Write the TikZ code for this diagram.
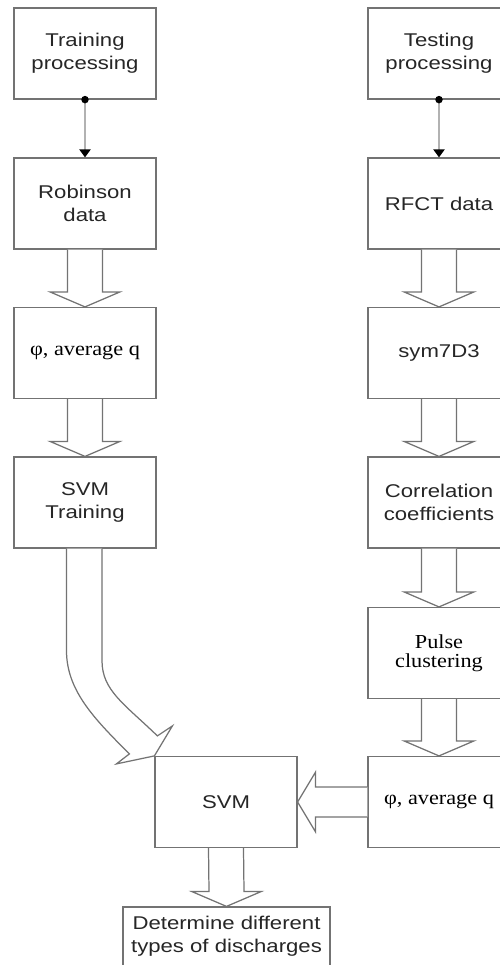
\documentclass[tikz,border=0pt]{standalone}
\usepackage{fontspec}
\setmainfont{Liberation Sans}[FakeStretch=1.2]
\newfontfamily\timesfont{Liberation Serif}[FakeStretch=1.12]
\usetikzlibrary{arrows.meta,calc}

\tikzset{
  box/.style={draw=black!55, line width=0.7pt, fill=white,
    minimum width=2.84cm, minimum height=1.82cm, inner sep=0pt,
    align=center, text=black!85, font=\fontsize{10.5}{13}\selectfont},
  serifbox/.style={box, text=black, font=\timesfont\fontsize{11.3}{10.8}\selectfont},
  blockarrow/.style={draw=black!55, line width=0.7pt, fill=white, line join=miter},
  thinarrow/.style={draw=black!30, line width=1.4pt,
    -{Triangle[color=black, length=1.6mm, width=2.2mm]}},
  joint/.style={fill=black}
}

% vertical hollow arrow from the bottom of #1 to the top of #2
\newcommand\downblock[2]{%
  \draw[blockarrow] ($(#1.south)+(-17.5,0)$) -- ($(#2.north)+(-17.5,-15)$)
    -- ($(#2.north)+(-35,-15)$) -- (#2.north) -- ($(#2.north)+(35,-15)$)
    -- ($(#2.north)+(17.5,-15)$) -- ($(#1.south)+(17.5,0)$);}

\begin{document}
\begin{tikzpicture}[x=0.02cm,y=-0.02cm]
  \useasboundingbox (0,0) rectangle (500,965);

  % training branch
  \node[box] (train) at (85,53.5) {Training\\processing};
  \node[box] (robin) at (85,203.5) {Robinson\\data};
  \node[serifbox] (phia) at (85,353) {φ, average q};
  \node[box] (svmt) at (85,502.5) {SVM\\Training};

  % testing branch
  \node[box] (test) at (439,53.5) {Testing\\processing};
  \node[box] (rfct) at (439,203.5) {RFCT data};
  \node[box] (sym) at (439,353) {sym7D3};
  \node[box] (corr) at (439,502.5) {Correlation\\coefficients};
  \node[serifbox] (pulse) at (439,653) {Pulse\\clustering};
  \node[serifbox] (phib) at (439,802) {φ, average q};

  % classifier and result
  \node[box] (svm) at (226,802) {SVM};
  \node[box, minimum width=4.14cm, minimum height=1.18cm] (det) at (226.5,936.5)
    {Determine different\\types of discharges};

  % thin connectors with joint dots
  \draw[thinarrow] (train.south) -- (robin.north);
  \fill[joint] (train.south) circle[radius=0.075cm];
  \draw[thinarrow] (test.south) -- (rfct.north);
  \fill[joint] (test.south) circle[radius=0.075cm];

  % hollow arrows down each column
  \downblock{robin}{phia}
  \downblock{phia}{svmt}
  \downblock{rfct}{sym}
  \downblock{sym}{corr}
  \downblock{corr}{pulse}
  \downblock{pulse}{phib}
  \downblock{svm}{det}

  % hollow arrow from the test features into the SVM
  \draw[blockarrow] ($(phib.west)+(0,-15)$) -- ($(svm.east)+(18,-15)$)
    -- ($(svm.east)+(18,-30)$) -- (svm.east) -- ($(svm.east)+(18,30)$)
    -- ($(svm.east)+(18,15)$) -- ($(phib.west)+(0,15)$);

  % curved hollow arrow from the trained model into the SVM
  \draw[blockarrow] ($(svmt.south)+(-18.5,0)$) -- ($(svmt.south)+(-18.5,102)$)
    .. controls ($(svmt.south)+(-18.5,142)$) and ($(svm.north west)+(-60,-37)$)
    .. ($(svm.north west)+(-25,-2)$)
    -- ($(svm.north west)+(-38,8)$) -- (svm.north west)
    -- ($(svm.north west)+(18,-30)$) -- ($(svm.north west)+(3,-20)$)
    .. controls ($(svm.north west)+(-30,-52)$) and ($(svmt.south)+(17,142)$)
    .. ($(svmt.south)+(17,112)$) -- ($(svmt.south)+(17,0)$);
\end{tikzpicture}
\end{document}
